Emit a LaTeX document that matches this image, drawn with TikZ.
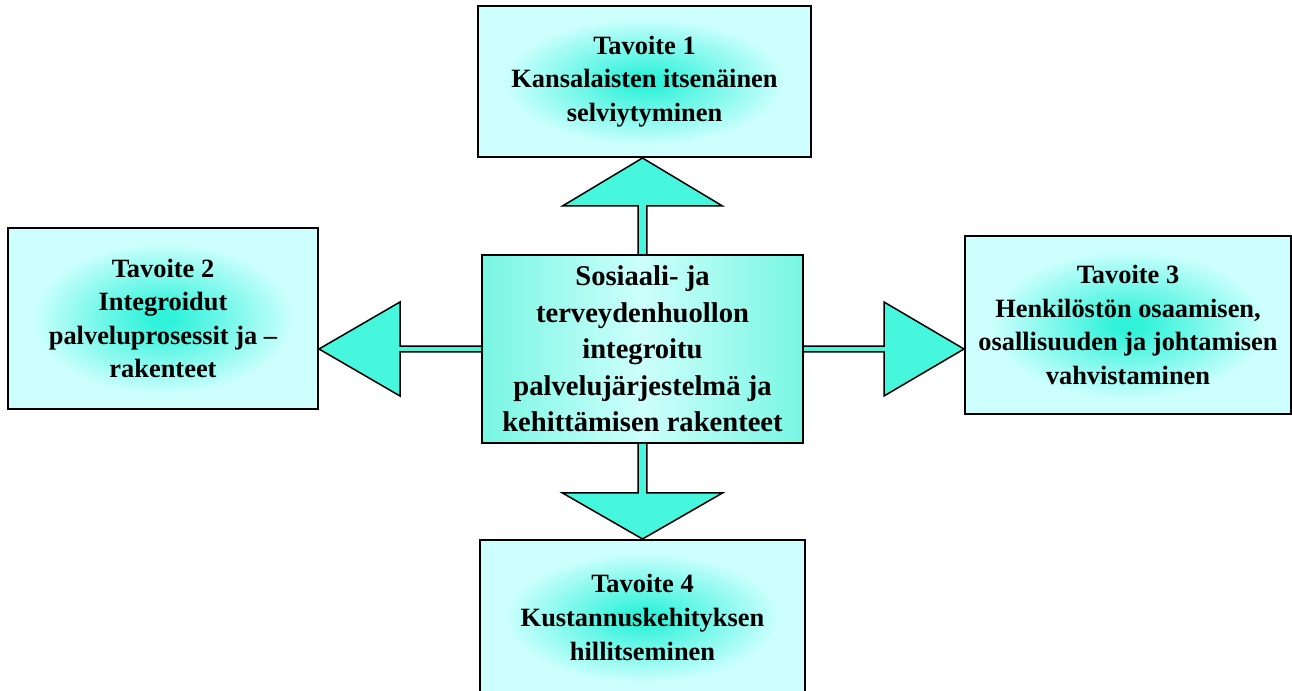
\documentclass[tikz,border=0pt]{standalone}
\usepackage{fontspec}
\setmainfont{Liberation Serif}
\usetikzlibrary{calc,positioning}
\definecolor{palec}{RGB}{204,255,253}
\definecolor{glowc}{RGB}{48,242,218}
\definecolor{keskedge}{RGB}{120,246,226}
\definecolor{keskmid}{RGB}{205,255,252}
\definecolor{arrowc}{RGB}{70,247,222}
\pgfdeclareradialshading{glowbox}{\pgfpoint{0bp}{0bp}}{color(0bp)=(glowc); color(2bp)=(glowc); color(21bp)=(palec); color(50bp)=(palec)}
\tikzset{%
      tavoite/.style={draw, line width=1pt, shading=glowbox, align=center, inner sep=2pt, font=\bfseries\fontsize{13.2}{16.8}\selectfont},
      keskus/.style={draw, line width=1pt, left color=keskedge, right color=keskedge, middle color=keskmid, align=center, inner sep=2pt, minimum width=160.5pt, minimum height=94pt, font=\bfseries\fontsize{14.3}{18.25}\selectfont},
      arrowbody/.style={fill=arrowc, draw=black, line width=0.75pt, line join=miter},
    }
\newcommand{\tavoite}[4]{node (t#1) [tavoite, minimum width=#2, minimum height=#3] {#4}}
\newcommand{\blockarrow}[6]{%
      \coordinate (#1s) at (#2);
      \coordinate (#1t) at (#3);
      \coordinate (#1b) at ($(#1t)!#4!(#1s)$);
      \path [arrowbody] ($(#1s)!#6!90:(#1t)$) -- ($(#1b)!#6!90:(#1t)$) -- ($(#1b)!#5!90:(#1t)$) -- (#1t)
        -- ($(#1b)!#5!-90:(#1t)$) -- ($(#1b)!#6!-90:(#1t)$) -- ($(#1s)!#6!-90:(#1t)$);}
\begin{document}
\begin{tikzpicture}[x=0.5pt, y=0.5pt]
      \useasboundingbox (0,0) rectangle (1292,691);

      % Draw diagram elements
      \path (642.5,342) node (c) [keskus] {Sosiaali- ja\\terveydenhuollon\\integroitu\\palvelujärjestelmä ja\\kehittämisen rakenteet};

      \path (644.5,609.5) \tavoite{1}{166.5pt}{75.5pt}{Tavoite 1\\Kansalaisten itsenäinen\\selviytyminen};
      \path (163,372.5) \tavoite{2}{155pt}{90.5pt}{Tavoite 2\\Integroidut\\palveluprosessit ja –\\rakenteet};
      \path (1128,366) \tavoite{3}{163pt}{89pt}{Tavoite 3\\Henkilöstön osaamisen,\\osallisuuden ja johtamisen\\vahvistaminen};
      \path (642.5,73.5) \tavoite{4}{162.5pt}{77.5pt}{Tavoite 4\\Kustannuskehityksen\\hillitseminen};

      % Draw arrows between elements
      \blockarrow{a1}{c.north}{c.north |- t1.south}{24pt}{40pt}{2.2pt}
      \blockarrow{a2}{c.west}{c.west -| t2.east}{40.5pt}{23.5pt}{1.4pt}
      \blockarrow{a3}{c.east}{c.east -| t3.west}{40pt}{23.5pt}{1.4pt}
      \blockarrow{a4}{c.south}{c.south |- t4.north}{23pt}{40pt}{2.2pt}

    \end{tikzpicture}
\end{document}
